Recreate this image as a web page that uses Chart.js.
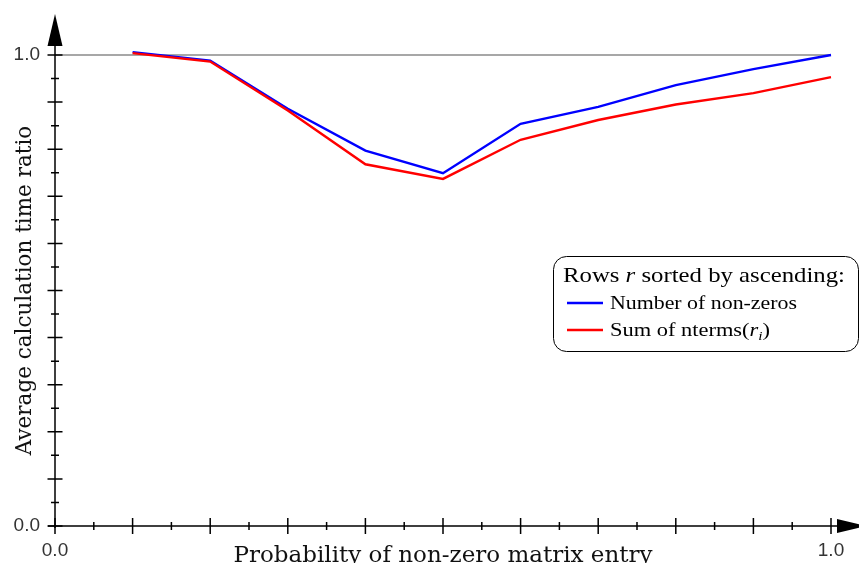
<!DOCTYPE html>
<html>
<head>
<meta charset="utf-8">
<script src="https://cdn.jsdelivr.net/npm/chart.js@4.4.0/dist/chart.umd.min.js"></script>
<style>
  html, body { margin: 0; padding: 0; background: #fff; }
</style>
</head>
<body>
<canvas id="ratioChart" width="859" height="563"></canvas>
<script>
// values
const probability = [0.1, 0.2, 0.3, 0.4, 0.5, 0.6, 0.7, 0.8, 0.9, 1.0];
const nonZeroRatio = [1.006, 0.988, 0.886, 0.797, 0.749, 0.854, 0.890, 0.936, 0.970, 1.000];
const ntermsRatio = [1.004, 0.986, 0.882, 0.768, 0.737, 0.820, 0.862, 0.895, 0.919, 0.953];
const referenceX = [0.0, 1.0];
const referenceY = [1.0, 1.0];
const endLabels = ['0.0', '1.0'];
const seriesNames = ['Number of non-zeros', 'Sum of nterms(r_i)'];

const toPoints = (xs, ys) => xs.map((v, i) => ({ x: v, y: ys[i] }));
const isMajor = v => Math.round(v * 20) % 2 === 0;
const endLabel = v => {
  if (Math.abs(v) < 1e-9) return endLabels[0];
  if (Math.abs(v - 1) < 1e-9) return endLabels[1];
  return '';
};

function drawRuns(ctx, runs, x, baseline, width) {
  let natural = 0;
  runs.forEach(r => { ctx.font = r.font; natural += ctx.measureText(r.text).width; });
  const sx = width ? width / natural : 1;
  ctx.save();
  ctx.translate(x, baseline);
  ctx.scale(sx, 1);
  let cx = 0;
  runs.forEach(r => {
    ctx.font = r.font;
    ctx.fillText(r.text, cx, r.dy || 0);
    cx += ctx.measureText(r.text).width;
  });
  ctx.restore();
}

// axes with arrows, +-shaped ticks, and the boxed legend
const axisDecor = {
  id: 'axisDecor',
  afterDatasetsDraw(chart) {
    const { ctx, scales: { x, y } } = chart;
    const x0 = x.getPixelForValue(0);
    const y0 = y.getPixelForValue(0);
    ctx.save();
    ctx.strokeStyle = '#000';
    ctx.fillStyle = '#000';
    ctx.lineWidth = 1.5;

    ctx.beginPath();
    ctx.moveTo(x0, y0 + 2);
    ctx.lineTo(x0, 40);
    ctx.moveTo(x0 - 7, y0);
    ctx.lineTo(840, y0);
    ctx.stroke();

    // arrow heads
    ctx.beginPath();
    ctx.moveTo(x0, 14);
    ctx.lineTo(x0 + 7.5, 46);
    ctx.lineTo(x0 - 7.5, 46);
    ctx.closePath();
    ctx.fill();
    ctx.beginPath();
    ctx.moveTo(867, y0);
    ctx.lineTo(837, y0 - 7);
    ctx.lineTo(837, y0 + 7);
    ctx.closePath();
    ctx.fill();

    ctx.beginPath();
    y.ticks.forEach(t => {
      const p = y.getPixelForValue(t.value);
      const h = isMajor(t.value) ? 7.5 : 4;
      ctx.moveTo(x0 - h, p);
      ctx.lineTo(x0 + h, p);
    });
    x.ticks.forEach(t => {
      const p = x.getPixelForValue(t.value);
      const h = isMajor(t.value) ? 8 : 4;
      ctx.moveTo(p, y0 - h);
      ctx.lineTo(p, y0 + h);
    });
    ctx.stroke();

    // legend
    ctx.lineWidth = 1;
    ctx.beginPath();
    ctx.roundRect(553.5, 256.5, 305, 95, 13);
    ctx.fillStyle = '#fff';
    ctx.fill();
    ctx.stroke();

    ctx.fillStyle = '#000';
    const serif = 'Liberation Serif';
    drawRuns(ctx, [
      { text: 'Rows ', font: `21px "${serif}"` },
      { text: 'r', font: `italic 21px "${serif}"` },
      { text: ' sorted by ascending:', font: `21px "${serif}"` }
    ], 563, 282, 282);
    drawRuns(ctx, [
      { text: seriesNames[0], font: `19px "${serif}"` }
    ], 610, 309, 187);
    drawRuns(ctx, [
      { text: 'Sum of nterms(', font: `19px "${serif}"` },
      { text: 'r', font: `italic 19px "${serif}"` },
      { text: 'i', font: `italic 13px "${serif}"`, dy: 4 },
      { text: ')', font: `19px "${serif}"` }
    ], 610, 336, 160);

    ctx.lineWidth = 2.4;
    ctx.strokeStyle = '#0000ff';
    ctx.beginPath();
    ctx.moveTo(567, 303);
    ctx.lineTo(603, 303);
    ctx.stroke();
    ctx.strokeStyle = '#ff0000';
    ctx.beginPath();
    ctx.moveTo(567, 330);
    ctx.lineTo(603, 330);
    ctx.stroke();
    ctx.restore();
  }
};

const tickFont = { family: 'Liberation Sans', size: 19 };

const ctx = document.getElementById('ratioChart');
new Chart(ctx, {
  type: 'line',
  data: {
    datasets: [
      { label: seriesNames[1], data: toPoints(probability, ntermsRatio), borderColor: '#ff0000', borderWidth: 2.4, pointRadius: 0, tension: 0, order: 0, clip: false },
      { label: seriesNames[0], data: toPoints(probability, nonZeroRatio), borderColor: '#0000ff', borderWidth: 2.4, pointRadius: 0, tension: 0, order: 1, clip: false },
      { label: 'reference', data: toPoints(referenceX, referenceY), borderColor: '#8a8a8a', borderWidth: 1.4, pointRadius: 0, order: 2, clip: false }
    ]
  },
  options: {
    responsive: false,
    animation: false,
    layout: { padding: { top: 55, right: 28, left: 0, bottom: 0 } },
    plugins: { legend: { display: false }, tooltip: { enabled: false } },
    scales: {
      x: {
        type: 'linear', min: 0, max: 1,
        grid: { display: false, drawTicks: false },
        border: { display: false },
        ticks: { stepSize: 0.05, autoSkip: false, maxRotation: 0, padding: 13, color: '#333', font: tickFont, callback: endLabel },
        title: { display: true, text: 'Probability of non-zero matrix entry', color: '#111', font: { family: 'DejaVu Serif', size: 23 }, padding: { top: 0, bottom: -7 } },
        afterFit: s => { s.height = 37; }
      },
      y: {
        type: 'linear', min: 0, max: 1,
        grid: { display: false, drawTicks: false },
        border: { display: false },
        ticks: { stepSize: 0.05, autoSkip: false, padding: 15, color: '#333', font: tickFont, callback: endLabel },
        title: { display: true, text: 'Average calculation time ratio', color: '#111', font: { family: 'DejaVu Serif', size: 21.5 }, padding: { top: 13, bottom: 0 } },
        afterFit: s => { s.width = 55; }
      }
    }
  },
  plugins: [axisDecor]
});
</script>
</body>
</html>
